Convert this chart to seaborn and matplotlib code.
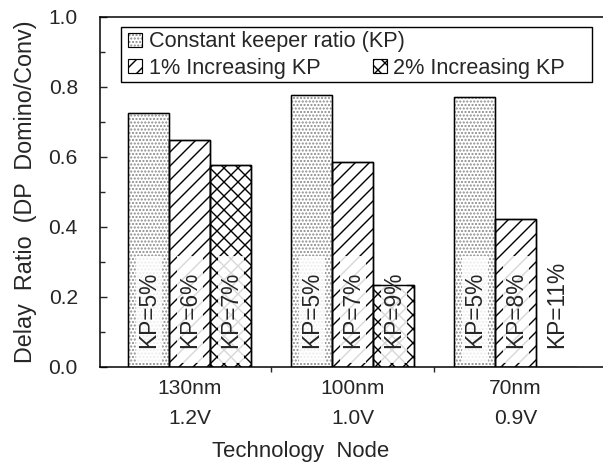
import matplotlib
matplotlib.use("Agg")
import matplotlib.pyplot as plt
from matplotlib.patches import Patch, Rectangle
from matplotlib.legend_handler import HandlerTuple
import matplotlib.transforms as mtransforms
import seaborn as sns
import pandas as pd

# ---- data ----
node_names = ['130nm', '100nm', '70nm']
voltages = ['1.2V', '1.0V', '0.9V']
series_names = ['Constant keeper ratio (KP)', '1% Increasing KP', '2% Increasing KP']
constant_kp = [0.727, 0.777, 0.772]
inc1_kp = [0.649, 0.586, 0.423]
inc2_kp = [0.577, 0.234, 0.0]
labels_const = ['KP=5%', 'KP=5%', 'KP=5%']
labels_inc1 = ['KP=6%', 'KP=7%', 'KP=8%']
labels_inc2 = ['KP=7%', 'KP=9%', 'KP=11%']
yticks = [0.0, 0.2, 0.4, 0.6, 0.8, 1.0]
ytick_labels = ['0.0', '0.2', '0.4', '0.6', '0.8', '1.0']

df = pd.DataFrame({
    'node': node_names * 3,
    'series': [s for s in series_names for _ in node_names],
    'ratio': constant_kp + inc1_kp + inc2_kp,
})
bar_labels = [labels_const, labels_inc1, labels_inc2]
hatches = ['....', '//', 'xx']
hatch_colors = ['#8a8a8a', 'black', 'black']

sns.set_style('ticks')
plt.rcParams['font.family'] = ['Liberation Sans', 'DejaVu Sans']
plt.rcParams['hatch.linewidth'] = 1.2

DPI = 84
fig = plt.figure(figsize=(603 / DPI, 463 / DPI), dpi=DPI)
ax = fig.add_axes([100 / 603, 96 / 463, 503 / 603, 350 / 463])

sns.barplot(data=df, x='node', y='ratio', hue='series', order=node_names,
            hue_order=series_names, palette=['white'] * 3, edgecolor='black',
            linewidth=1.2, width=0.755, ax=ax, legend=False, saturation=1)

for i, cont in enumerate(ax.containers):
    for j, bar in enumerate(cont):
        bar.set_hatch(hatches[i])
        bar.set_edgecolor(hatch_colors[i])
        bar.set_facecolor('white')
        bx, bw, bh = bar.get_x(), bar.get_width(), bar.get_height()
        z = bar.get_zorder()
        if bh > 0:
            ax.add_patch(Rectangle((bx + 0.2 * bw, 0.012), 0.62 * bw, 0.305,
                                   facecolor='white', edgecolor='none', alpha=0.85,
                                   zorder=z + 0.1))
            ax.add_patch(Rectangle((bx, 0), bw, bh, fill=False,
                                   edgecolor='black', linewidth=1.2,
                                   zorder=z + 0.2))
        ax.text(bx + bw / 2, 0.054, bar_labels[i][j], rotation=90,
                ha='center', va='bottom', fontsize=19.5, zorder=5)

ax.set_xlim(-0.549, 2.537)
ax.set_ylim(0, 1.0)
ax.set_yticks(yticks)
ax.set_yticklabels(ytick_labels)
ax.set_yticks([0.1, 0.3, 0.5, 0.7, 0.9], minor=True)
ax.tick_params(axis='y', which='major', direction='in', length=6, width=1.2,
               labelsize=18, pad=19)
ax.tick_params(axis='y', which='minor', direction='in', length=4.3, width=1.2)
ax.set_xticks(range(len(node_names)))
ax.set_xticklabels(node_names)
ax.set_xticks([0.5, 1.5], minor=True)
ax.tick_params(axis='x', which='major', length=0, labelsize=18, pad=10)
ax.tick_params(axis='x', which='minor', direction='out', length=4.5, width=1.2)

# second line of the category labels (supply voltage)
trans = mtransforms.blended_transform_factory(ax.transData, ax.transAxes)
for k, v in enumerate(voltages):
    ax.text(k, -0.147, v, transform=trans, ha='center', va='center',
            fontsize=18, clip_on=False)

for s in ['left', 'bottom', 'top']:
    ax.spines[s].set_linewidth(1.3)
    ax.spines[s].set_color('black')
ax.spines['right'].set_visible(False)

ax.set_ylabel('Delay  Ratio  (DP  Domino/Conv)', fontsize=20)
ax.yaxis.set_label_coords(-0.125, 0.5)
ax.set_xlabel('Technology  Node', fontsize=19)
ax.xaxis.set_label_coords(0.398, -0.21)

# legend frame
ax.add_patch(Rectangle((0.0417, 0.814), 0.936, 0.157, transform=ax.transAxes,
                       facecolor='white', edgecolor='black', linewidth=1.2,
                       zorder=6))
handles = [(Patch(facecolor='white', edgecolor=c, hatch=h, linewidth=0),
            Patch(fill=False, edgecolor='black', linewidth=1.0))
           for h, c in zip(hatches, hatch_colors)]
leg_kw = dict(loc='center left', frameon=False, fontsize=18.5, borderpad=0,
              borderaxespad=0, handlelength=0.65, handleheight=0.65,
              handletextpad=0.3,
              handler_map={tuple: HandlerTuple(ndivide=1, pad=0)})
anchors = [(0.0557, 0.9286), (0.0557, 0.854), (0.5427, 0.854)]
for k, (h, name, anc) in enumerate(zip(handles, series_names, anchors)):
    leg = ax.legend([h], [name], bbox_to_anchor=anc, **leg_kw)
    leg.set_zorder(7)
    if k < len(handles) - 1:
        ax.add_artist(leg)

fig.savefig('out.png', dpi=DPI)
